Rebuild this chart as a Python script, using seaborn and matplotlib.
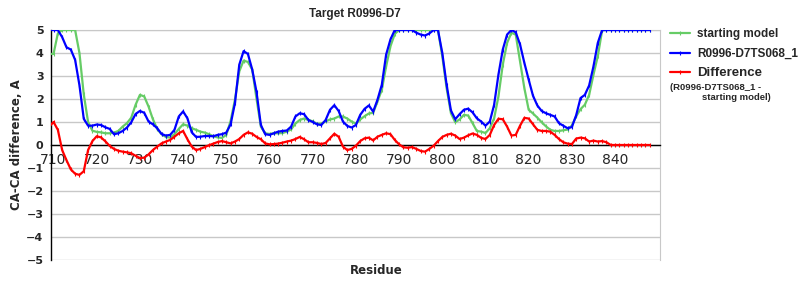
import numpy as np
import pandas as pd
import matplotlib
matplotlib.use("Agg")
import matplotlib.pyplot as plt
import seaborn as sns

# ---------------- data ----------------
residues = list(range(709, 849))

starting_model = [
    3.96, 3.96, 4.85, 5.0, 5.0, 5.0, 5.0, 4.0, 2.2, 1.0,
    0.62, 0.57, 0.55, 0.51, 0.51, 0.54, 0.61, 0.8, 0.95, 1.19,
    1.75, 2.18, 2.11, 1.67, 1.12, 0.7, 0.47, 0.35, 0.32, 0.47,
    0.7, 0.9, 0.84, 0.73, 0.66, 0.58, 0.54, 0.47, 0.38, 0.33,
    0.31, 0.44, 1.05, 1.97, 3.2, 3.67, 3.61, 3.28, 2.0, 0.8,
    0.51, 0.48, 0.51, 0.51, 0.52, 0.58, 0.68, 0.93, 1.09, 1.15,
    1.09, 1.03, 0.92, 0.93, 1.03, 1.11, 1.15, 1.24, 1.24, 1.15,
    1.02, 0.93, 1.11, 1.25, 1.37, 1.4, 1.89, 2.4, 3.42, 4.29,
    4.83, 5.0, 5.0, 5.0, 5.0, 5.0, 5.0, 5.0, 5.0, 5.0,
    5.0, 3.86, 2.47, 1.38, 0.99, 1.11, 1.31, 1.28, 0.95, 0.61,
    0.58, 0.52, 0.73, 1.16, 2.11, 3.49, 4.44, 4.88, 4.8, 3.64,
    2.47, 1.53, 1.37, 1.19, 0.99, 0.81, 0.66, 0.61, 0.61, 0.64,
    0.67, 0.85, 1.25, 1.56, 1.75, 2.18, 3.06, 3.86, 4.98, 5.0,
    5.0, 5.0, 5.0, 5.0, 5.0, 5.0, 5.0, 5.0, 5.0, 5.0,
]

model_ts068 = [
    5.0, 5.0, 5.0, 4.69, 4.25, 4.15, 3.7, 2.6, 1.14, 0.84,
    0.84, 0.89, 0.87, 0.77, 0.7, 0.47, 0.51, 0.61, 0.76, 0.99,
    1.35, 1.48, 1.4, 1.02, 0.9, 0.73, 0.48, 0.41, 0.44, 0.66,
    1.24, 1.46, 1.16, 0.55, 0.35, 0.36, 0.39, 0.39, 0.38, 0.44,
    0.47, 0.54, 0.9, 1.82, 3.49, 4.08, 3.96, 3.28, 2.3, 0.87,
    0.47, 0.44, 0.51, 0.58, 0.61, 0.63, 0.8, 1.24, 1.38, 1.34,
    1.09, 1.0, 0.9, 0.87, 1.09, 1.53, 1.73, 1.48, 1.02, 0.83,
    0.76, 0.87, 1.31, 1.57, 1.72, 1.45, 1.97, 2.62, 3.93, 4.59,
    5.0, 5.0, 5.0, 5.0, 5.0, 4.88, 4.8, 4.76, 4.85, 5.0,
    5.0, 4.0, 2.62, 1.5, 1.12, 1.34, 1.53, 1.58, 1.42, 1.16,
    1.02, 0.84, 1.02, 1.75, 3.06, 4.15, 4.8, 5.0, 4.9, 4.37,
    3.57, 2.84, 2.14, 1.72, 1.48, 1.38, 1.31, 1.24, 0.95, 0.84,
    0.73, 0.78, 1.3, 2.04, 2.18, 2.59, 3.42, 4.44, 5.0, 5.0,
    5.0, 5.0, 5.0, 5.0, 5.0, 5.0, 5.0, 5.0, 5.0, 5.0,
]

difference = [
    0.8, 1.0, 0.66, -0.22, -0.66, -1.06, -1.25, -1.3, -1.14, -0.22,
    0.17, 0.38, 0.33, 0.16, -0.04, -0.17, -0.25, -0.29, -0.32, -0.36,
    -0.47, -0.57, -0.55, -0.41, -0.22, -0.07, 0.07, 0.15, 0.22, 0.36,
    0.51, 0.61, 0.25, -0.07, -0.22, -0.17, -0.09, -0.01, 0.06, 0.13,
    0.17, 0.12, 0.07, 0.15, 0.26, 0.44, 0.55, 0.49, 0.35, 0.25,
    0.07, 0.03, 0.04, 0.06, 0.1, 0.15, 0.19, 0.26, 0.35, 0.25,
    0.12, 0.12, 0.09, 0.04, 0.09, 0.29, 0.49, 0.36, -0.07, -0.22,
    -0.17, -0.03, 0.17, 0.29, 0.32, 0.2, 0.36, 0.44, 0.51, 0.47,
    0.22, 0.03, -0.1, -0.12, -0.09, -0.17, -0.26, -0.29, -0.17, -0.03,
    0.17, 0.35, 0.44, 0.49, 0.41, 0.26, 0.32, 0.42, 0.5, 0.44,
    0.31, 0.26, 0.44, 0.87, 1.14, 1.12, 0.8, 0.41, 0.44, 0.84,
    1.18, 1.15, 0.9, 0.66, 0.61, 0.61, 0.58, 0.44, 0.26, 0.12,
    0.06, 0.04, 0.28, 0.32, 0.29, 0.15, 0.19, 0.15, 0.17, 0.12,
    0.0, 0.0, 0.0, 0.0, 0.0, 0.0, 0.0, 0.0, 0.0, 0.0,
]

series_labels = ["starting model", "R0996-D7TS068_1", "Difference"]
x_ticks = [710, 720, 730, 740, 750, 760, 770, 780, 790, 800, 810, 820, 830, 840]
y_ticks = [-5, -4, -3, -2, -1, 0, 1, 2, 3, 4, 5]

# ---------------- style ----------------
sns.set_style("white")
plt.rcParams["font.family"] = ["DejaVu Sans"]

GREEN = "#66cc66"
BLUE = "#0000ff"
RED = "#ff0000"

df = pd.DataFrame({
    "residue": residues,
    "start": starting_model,
    "model": model_ts068,
    "diff": difference,
})

fig = plt.figure(figsize=(8, 3), dpi=100)
ax = fig.add_axes([50.5 / 800, 40 / 300, 609.5 / 800, 230 / 300])

for col, colr in [("start", GREEN), ("model", BLUE), ("diff", RED)]:
    sns.lineplot(data=df, x="residue", y=col, ax=ax, color=colr, lw=1.6,
                 marker="|", ms=3, mew=0.8, mec=colr, legend=False, zorder=3)

ax.set_xlim(709.3, 850.4)
ax.set_ylim(-5, 5)
ax.set_xticks(x_ticks)
ax.set_yticks(y_ticks)

tick_font = dict(family="DejaVu Sans", weight="bold", size=8)
ax.set_xticklabels([str(t) for t in x_ticks], **tick_font)
ax.set_yticklabels([("\u2212" + str(-t)) if t < 0 else str(t) for t in y_ticks], **tick_font)

ax.tick_params(axis="y", length=0, pad=5)
ax.tick_params(axis="x", length=3, width=0.8, color="#a0a0a0", pad=3, direction="out")

ax.set_axisbelow(True)
ax.yaxis.grid(True, color="#c8c8c8", lw=1.0)
ax.xaxis.grid(False)

ax.spines["bottom"].set_position(("data", 0))
ax.spines["bottom"].set_color("black")
ax.spines["bottom"].set_linewidth(1.0)
ax.spines["left"].set_color("black")
ax.spines["left"].set_linewidth(1.0)
ax.spines["top"].set_color("#c8c8c8")
ax.spines["right"].set_color("#c8c8c8")

ax.set_title("Target R0996-D7", family="Liberation Sans", weight="bold", size=8.5, pad=9)
ax.set_xlabel("Residue", family="DejaVu Sans", weight="bold", size=8.5)
ax.xaxis.set_label_coords((376 - 50.5) / 609.5, -0.018)
ax.set_ylabel("CA-CA difference, A", family="DejaVu Sans", weight="bold", size=8.5)
ax.yaxis.set_label_coords(-0.045, 0.5)

handles = ax.get_lines()[:3]
leg = ax.legend(handles, series_labels, loc="upper left",
                bbox_to_anchor=(670 / 800, 1 - 28 / 300), bbox_transform=fig.transFigure,
                frameon=False, borderpad=0, borderaxespad=0, handlelength=1.7,
                handletextpad=0.6, labelspacing=0.65,
                prop=dict(family="Liberation Sans", weight="bold", size=8.5))
leg.get_texts()[2].set_fontsize(9.5)

fig.text(670 / 800, 1 - 87 / 300, "(R0996-D7TS068_1 -", family="Liberation Sans",
         weight="bold", size=6.8, va="center", ha="left")
fig.text(702 / 800, 1 - 97.5 / 300, "starting model)", family="Liberation Sans",
         weight="bold", size=6.8, va="center", ha="left")

fig.savefig("out.png", dpi=100)
